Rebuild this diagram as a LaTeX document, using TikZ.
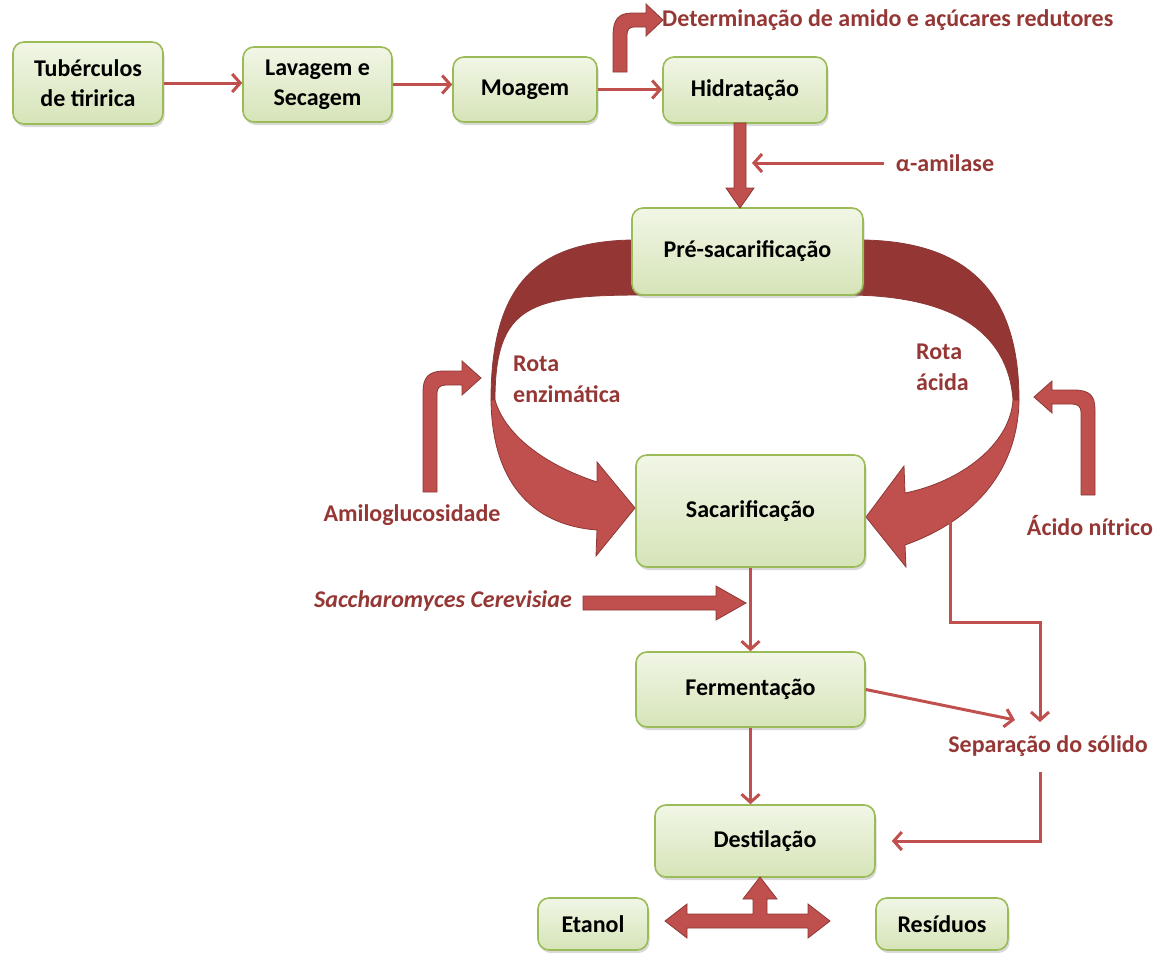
\documentclass[tikz,border=0pt]{standalone}
\usepackage{fontspec}
\setmainfont{Carlito}
\usetikzlibrary{arrows.meta,shadows}
\definecolor{boxborder}{HTML}{9BBB59}
\definecolor{boxtop}{HTML}{F1F6E6}
\definecolor{boxbottom}{HTML}{D6E4B8}
\definecolor{arrowred}{HTML}{C0504D}
\definecolor{arrowdark}{HTML}{943634}
\definecolor{arrowedge}{HTML}{8C3836}
\definecolor{labelred}{HTML}{953735}

\begin{document}
\begin{tikzpicture}[x=1pt,y=-1pt,
  stage/.style={draw=boxborder, line width=1.6pt, rounded corners=11pt,
    top color=boxtop, bottom color=boxbottom,
    font=\fontsize{24}{30}\selectfont\bfseries, align=center, inner sep=0pt,
    drop shadow={shadow xshift=1.5pt, shadow yshift=-3pt, opacity=0.3}},
  lbl/.style={text=labelred, font=\fontsize{24}{31}\selectfont\bfseries, inner sep=0pt},
  link/.style={draw=arrowred, line width=3pt, -{Straight Barb[length=8pt,width=18pt]}},
  block/.style={fill=arrowred, draw=arrowedge, line width=0.8pt, line join=miter},
  ribbon/.style={draw=arrowedge, line width=0.8pt},
]
\useasboundingbox (0,0) rectangle (1160,953);

% curved routes around the pre-saccharification stage
\path[ribbon, fill=arrowdark] (645,240) .. controls (540,238) and (491,280) .. (491,400)
  -- (495,400) .. controls (495,305) and (530,295) .. (645,295) -- cycle;
\path[ribbon, fill=arrowred] (491,400) .. controls (492,480) and (530,525) .. (597,530)
  -- (596,556) -- (635,508) -- (597,462) -- (597,482)
  .. controls (545,465) and (505,435) .. (495,400) -- cycle;
\path[ribbon, fill=arrowdark] (850,240) .. controls (955,238) and (1019,280) .. (1019,400)
  -- (1013,400) .. controls (1008,330) and (950,296) .. (850,295) -- cycle;
\path[ribbon, fill=arrowred] (1019,400) .. controls (1018,470) and (975,520) .. (905,545)
  -- (906,567) -- (866,517) -- (904,466) -- (905,493)
  .. controls (960,482) and (1010,445) .. (1013,400) -- cycle;

% process stages
\node[stage, minimum width=150pt, minimum height=82pt] (tub) at (88,83) {Tubérculos\\de tiririca};
\node[stage, minimum width=149pt, minimum height=75pt] (lav) at (317.5,84.5) {Lavagem e\\Secagem};
\node[stage, minimum width=144pt, minimum height=65pt] (moa) at (525,89.5) {Moagem};
\node[stage, minimum width=164pt, minimum height=66pt] (hid) at (745,90) {Hidratação};
\node[stage, minimum width=231pt, minimum height=87pt] (pre) at (747.5,251.5) {Pré-sacarificação};
\node[stage, minimum width=229pt, minimum height=112pt] (sac) at (750.5,511) {Sacarificação};
\node[stage, minimum width=229pt, minimum height=75pt] (fer) at (750.5,689.5) {Fermentação};
\node[stage, minimum width=220pt, minimum height=72pt] (des) at (765,841) {Destilação};
\node[stage, minimum width=110pt, minimum height=52pt] (eta) at (593,924) {Etanol};
\node[stage, minimum width=132pt, minimum height=52pt] (res) at (942,924) {Resíduos};

% labels
\node[lbl, anchor=west] (det) at (662,20) {Determinação de amido e açúcares redutores};
\node[lbl] (amil) at (945,163) {α-amilase};
\node[lbl, align=left, anchor=west] (renz) at (513,379) {Rota\\enzimática};
\node[lbl, align=left, anchor=west] (raci) at (916,367) {Rota\\ácida};
\node[lbl] (amg) at (412,515) {Amiloglucosidade};
\node[lbl] (acn) at (1090,526) {Ácido nítrico};
\node[lbl, font=\fontsize{24}{31}\selectfont\bfseries\itshape] (sacc) at (443,601) {Saccharomyces Cerevisiae};
\node[lbl] (sep) at (1048,746) {Separação do sólido};

% block arrows
\path[block] (613,72) -- (613,36) .. controls (613,20) and (618,13) .. (632,13) -- (646,13)
  -- (646,4) -- (663,20) -- (646,36) -- (646,27) -- (634,27)
  .. controls (629,27) and (627,30) .. (627,35) -- (627,72) -- cycle;
\path[block] (734,123) -- (746,123) -- (746,188) -- (754,188) -- (740,208)
  -- (726,188) -- (734,188) -- cycle;
\path[block] (437,492) -- (423,492) -- (423,392) .. controls (423,378) and (428,371) .. (444,371)
  -- (462,371) -- (462,361) -- (481,378) -- (462,395) -- (462,385) -- (446,385)
  .. controls (440,385) and (437,388) .. (437,393) -- cycle;
\path[block] (1081,495) -- (1095,495) -- (1095,410) .. controls (1095,396) and (1090,390) .. (1074,390)
  -- (1052,390) -- (1052,381) -- (1034,397) -- (1052,413) -- (1052,404) -- (1072,404)
  .. controls (1078,404) and (1081,407) .. (1081,412) -- cycle;
\path[block] (583,596) -- (716,596) -- (716,586) -- (746,603) -- (716,620) -- (716,610)
  -- (583,610) -- cycle;
\path[block] (665,921) -- (687,904) -- (687,914) -- (753,914) -- (753,899) -- (743,899)
  -- (760,877) -- (777,899) -- (767,899) -- (767,914) -- (808,914) -- (808,904)
  -- (830,921) -- (808,938) -- (808,928) -- (687,928) -- (687,938) -- cycle;

% thin connectors
\coordinate (amilend) at (752,163);
\coordinate (sacout) at (950,522);
\coordinate (sepknee) at (1040,622);
\coordinate (sepin) at (1040,722);
\coordinate (sepleft) at (1015,720);
\coordinate (sepout) at (1040,772);

\draw[link] (tub.east) -- (tub.east -| lav.west);
\draw[link] (lav.east) -- (lav.east -| moa.west);
\draw[link] (moa.east) -- (moa.east -| hid.west);
\draw[link] ([xshift=-12pt]amil.west) -- (amilend);
\draw[link] (sac.south) -- (fer.north);
\draw[link] (fer.south) -- (fer.south |- des.north);
\draw[link] (fer.east) -- (sepleft);
\draw[link] (sacout) |- (sepknee) -- (sepin);
\draw[link] (sepout) |- ([xshift=16pt]des.east);
\end{tikzpicture}
\end{document}
